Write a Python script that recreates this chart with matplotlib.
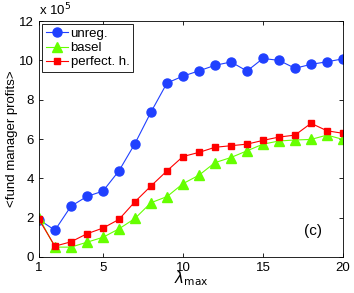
import matplotlib
matplotlib.use('Agg')
import matplotlib.pyplot as plt

plt.rcParams['font.family'] = ['Liberation Sans', 'DejaVu Sans']

# lambda_max values
lam = list(range(1, 21))

# profits in units of 10^5
unreg = [1.9, 1.36, 2.58, 3.08, 3.35, 4.38, 5.77, 7.37, 8.85, 9.2, 9.47,
         9.75, 9.92, 9.46, 10.1, 10.0, 9.6, 9.8, 9.93, 10.08]
basel = [2.0, 0.5, 0.5, 0.75, 1.0, 1.43, 1.96, 2.76, 3.07, 3.73, 4.16,
         4.8, 5.06, 5.4, 5.74, 5.9, 5.95, 5.98, 6.2, 5.98]
perfect = [1.91, 0.55, 0.77, 1.18, 1.47, 1.91, 2.81, 3.61, 4.38, 5.11, 5.32,
           5.58, 5.66, 5.74, 5.93, 6.1, 6.2, 6.8, 6.42, 6.29]

fig = plt.figure(figsize=(3.54, 2.93), dpi=100)
ax = fig.add_axes([0.110, 0.123, 0.859, 0.805])

ax.plot(lam, unreg, '-o', color='#2040ff', mfc='#2040ff', mec='#2040ff',
        ms=6.5, lw=0.8, label='unreg.')
ax.plot(lam, basel, '-^', color='#66ff00', mfc='#66ff00', mec='#66ff00',
        ms=6.5, lw=0.8, label='basel')
ax.plot(lam, perfect, '-s', color='#ff0000', mfc='#ff0000', mec='#ff0000',
        ms=5, lw=0.8, label='perfect. h.')

ax.set_xlim(1, 20)
ax.set_ylim(0, 12)
ax.set_xticks([1, 5, 10, 15, 20])
ax.set_yticks([0, 2, 4, 6, 8, 10, 12])
ax.tick_params(direction='in', top=True, right=True, labelsize=9.5,
               length=3, width=0.6)
for s in ax.spines.values():
    s.set_linewidth(0.6)

ax.set_xlabel(r'$\lambda_{\rm max}$', fontsize=11, labelpad=-3)
ax.set_ylabel('<fund manager profits>', fontsize=9.5, labelpad=1)
ax.text(0.0, 1.01, r'x 10$^5$', transform=ax.transAxes, fontsize=9.5,
        ha='left', va='bottom')
ax.text(0.93, 0.08, '(c)', transform=ax.transAxes, fontsize=11,
        ha='right', va='bottom')

leg = ax.legend(loc='upper left', fontsize=9.5, fancybox=False,
                framealpha=1, edgecolor='black', borderpad=0.3,
                handlelength=1.7, handletextpad=0.2, labelspacing=0.15,
                borderaxespad=0.2)
leg.get_frame().set_linewidth(0.6)

fig.savefig('out.png', dpi=100)
